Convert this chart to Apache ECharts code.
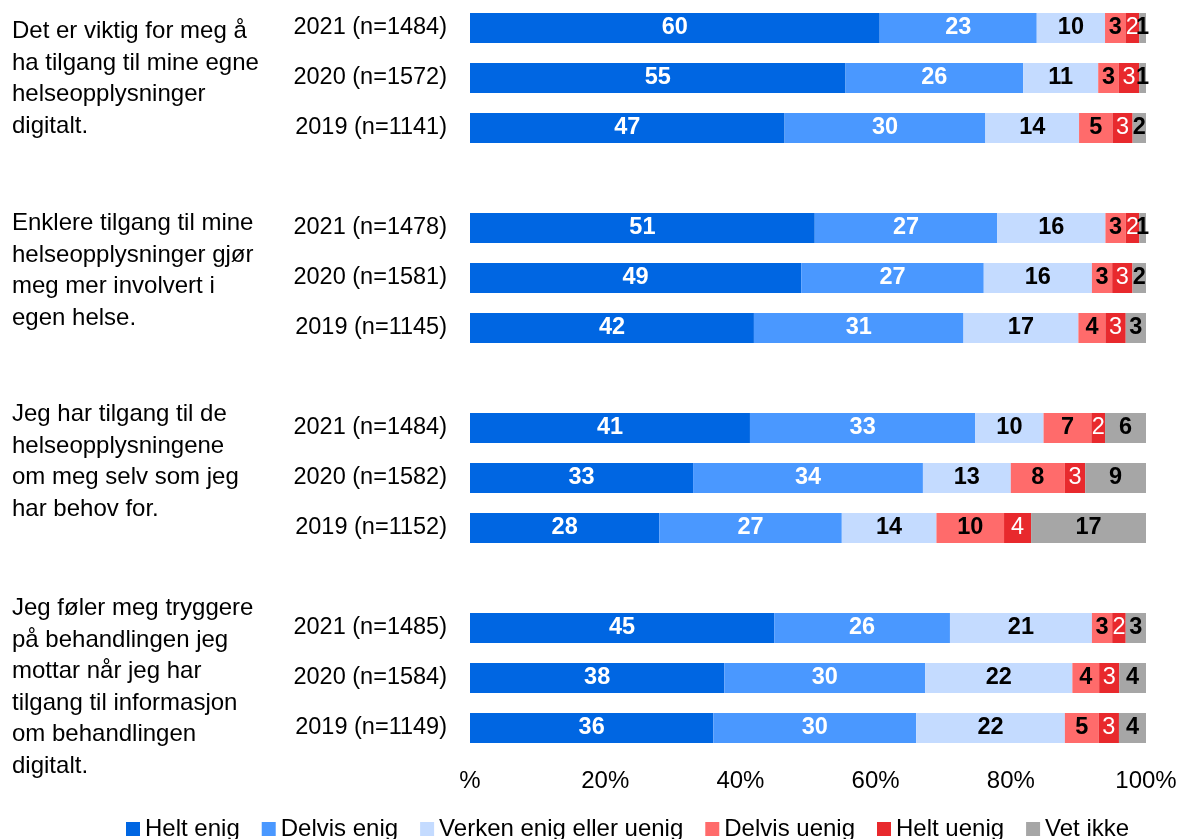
<!DOCTYPE html>
<html>
<head>
<meta charset="utf-8">
<script src="https://cdn.jsdelivr.net/npm/echarts@6/dist/echarts.min.js"></script>
<style>
  html, body { margin: 0; padding: 0; background: #fff; }
  #chart { width: 1180px; height: 839px; }
</style>
</head>
<body>
<div id="chart"></div>
<script>
// Survey statements (one block of three yearly rows each)
const questions = [
  'Det er viktig for meg å\nha tilgang til mine egne\nhelseopplysninger\ndigitalt.',
  'Enklere tilgang til mine\nhelseopplysninger gjør\nmeg mer involvert i\negen helse.',
  'Jeg har tilgang til de\nhelseopplysningene\nom meg selv som jeg\nhar behov for.',
  'Jeg føler meg tryggere\npå behandlingen jeg\nmottar når jeg har\ntilgang til informasjon\nom behandlingen\ndigitalt.'
];

// Row labels per statement, top to bottom
const rowLabels = [
  ['2021 (n=1484)', '2020 (n=1572)', '2019 (n=1141)'],
  ['2021 (n=1478)', '2020 (n=1581)', '2019 (n=1145)'],
  ['2021 (n=1484)', '2020 (n=1582)', '2019 (n=1152)'],
  ['2021 (n=1485)', '2020 (n=1584)', '2019 (n=1149)']
];

const answerNames = ['Helt enig', 'Delvis enig', 'Verken enig eller uenig', 'Delvis uenig', 'Helt uenig', 'Vet ikke'];

// Percent answering each option, rows in the same order as rowLabels
const heltEnig    = [60, 55, 47, 51, 49, 42, 41, 33, 28, 45, 38, 36];
const delvisEnig  = [23, 26, 30, 27, 27, 31, 33, 34, 27, 26, 30, 30];
const verken      = [10, 11, 14, 16, 16, 17, 10, 13, 14, 21, 22, 22];
const delvisUenig = [ 3,  3,  5,  3,  3,  4,  7,  8, 10,  3,  4,  5];
const heltUenig   = [ 2,  3,  3,  2,  3,  3,  2,  3,  4,  2,  3,  3];
const vetIkke     = [ 1,  1,  2,  1,  2,  3,  6,  9, 17,  3,  4,  4];

const xTicks = [0, 20, 40, 60, 80, 100];

const FONT = "'Liberation Sans', Arial, sans-serif";
const FS = 24;
const colors = ['#0066E2', '#4A98FF', '#C4DBFF', '#FF6B6B', '#E8292D', '#A6A6A6'];
const labelColors = ['#fff', '#fff', '#000', '#000', '#fff', '#000'];
const labelWeights = ['bold', 'bold', 'bold', 'bold', 'normal', 'bold'];
const seriesValues = [heltEnig, delvisEnig, verken, delvisUenig, heltUenig, vetIkke];

// Category slots: three rows per statement with an empty slot between blocks
const categories = [];
const slotRow = []; // slot index -> data row index (or -1 for spacer)
rowLabels.forEach((block, b) => {
  if (b > 0) { categories.push(' '.repeat(b)); slotRow.push(-1); }
  block.forEach((lab, i) => { categories.push(lab); slotRow.push(b * 3 + i); });
});

// Each row is shown as a 100 % stacked bar
const rowTotals = heltEnig.map((_, r) => seriesValues.reduce((s, arr) => s + arr[r], 0));

const series = answerNames.map((name, k) => ({
  name,
  type: 'bar',
  stack: 'all',
  barWidth: 30,
  itemStyle: { color: colors[k] },
  label: {
    show: true,
    position: 'inside',
    color: labelColors[k],
    fontWeight: labelWeights[k],
    fontSize: 23.5,
    fontFamily: FONT,
    formatter: p => p.data.raw
  },
  emphasis: { disabled: true },
  data: slotRow.map(r => r < 0 ? { value: '-', raw: '' } :
    { value: seriesValues[k][r] / rowTotals[r] * 100, raw: seriesValues[k][r] })
}));

// Statement text blocks, each started level with its first row
const questionTops = [16, 208, 399, 593];
const graphics = questions.map((q, i) => ({
  type: 'text',
  left: 12,
  top: questionTops[i],
  silent: true,
  style: {
    text: q,
    fontSize: FS,
    fontFamily: FONT,
    fill: '#000',
    lineHeight: 31.5
  }
}));

const chart = echarts.init(document.getElementById('chart'), null, { renderer: 'canvas' });
chart.setOption({
  animation: false,
  backgroundColor: '#fff',
  textStyle: { fontFamily: FONT },
  grid: { left: 470, right: 34, top: 3, height: 750, containLabel: false },
  xAxis: {
    type: 'value',
    min: xTicks[0],
    max: xTicks[xTicks.length - 1],
    interval: xTicks[1] - xTicks[0],
    axisLine: { show: false },
    axisTick: { show: false },
    splitLine: { show: false },
    axisLabel: {
      margin: 16,
      fontSize: FS,
      fontFamily: FONT,
      color: '#000',
      formatter: v => (v === 0 ? '%' : v + '%')
    }
  },
  yAxis: {
    type: 'category',
    inverse: true,
    data: categories,
    axisLine: { show: false },
    axisTick: { show: false },
    splitLine: { show: false },
    axisLabel: {
      margin: 23,
      fontSize: 23.5,
      fontFamily: FONT,
      color: '#000',
      formatter: v => v.trim()
    }
  },
  legend: {
    left: 126,
    top: 817,
    padding: 0,
    itemWidth: 14,
    itemHeight: 14,
    itemGap: 22,
    icon: 'rect',
    selectedMode: false,
    textStyle: { fontSize: FS, fontFamily: FONT, color: '#000', padding: [0, 0, 0, 0] },
    data: answerNames
  },
  graphic: graphics,
  series
});
</script>
</body>
</html>
